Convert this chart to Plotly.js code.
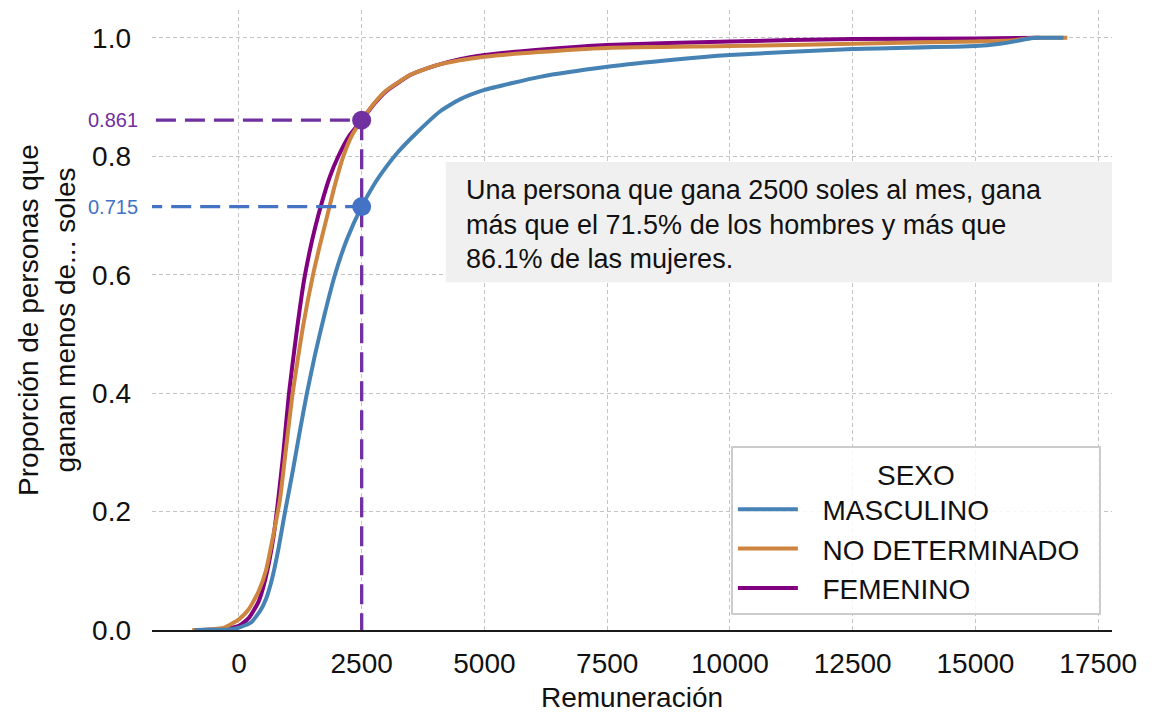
<!DOCTYPE html>
<html>
<head>
<meta charset="utf-8">
<script src="https://cdn.plot.ly/plotly-3.0.1.min.js"></script>
<style>
  html, body { margin: 0; padding: 0; background: #ffffff; }
  #chart { width: 1165px; height: 713px; }
</style>
</head>
<body>
<div id="chart"></div>
<script>
// ---- Data ----
const seriesNames = ['MASCULINO', 'NO DETERMINADO', 'FEMENINO'];

const xMasculino = [-900, -500, -200, 0, 250, 430, 550, 670, 800, 940, 1100, 1250, 1385, 1550, 1750, 1956, 2200, 2500, 2750, 3000, 3250, 3600, 4100, 4500, 5000, 6130, 7500, 8840, 10000, 12500, 15000, 15500, 15800, 16100, 16300, 16790];
const yMasculino = [0, 0.0005, 0.001, 0.004, 0.013, 0.032, 0.052, 0.085, 0.135, 0.2, 0.27, 0.34, 0.4, 0.465, 0.535, 0.6, 0.66, 0.715, 0.752, 0.782, 0.808, 0.838, 0.876, 0.896, 0.912, 0.934, 0.951, 0.963, 0.971, 0.981, 0.986, 0.99, 0.994, 0.999, 1.0, 1.0];

const xNoDeterminado = [-950, -600, -300, 0, 200, 400, 550, 700, 835, 950, 1094, 1300, 1510, 1650, 1800, 1950, 2126, 2300, 2500, 2750, 3000, 3500, 4000, 4500, 5000, 6100, 7500, 10000, 12500, 15000, 15800, 16200, 16870];
const yNoDeterminado = [0, 0.001, 0.004, 0.018, 0.035, 0.065, 0.1, 0.16, 0.22, 0.3, 0.4, 0.51, 0.6, 0.65, 0.7, 0.75, 0.8, 0.835, 0.861, 0.889, 0.911, 0.938, 0.953, 0.962, 0.968, 0.976, 0.983, 0.986, 0.99, 0.994, 0.996, 1.0, 1.0];

const xFemenino = [-900, -500, -200, 0, 200, 400, 550, 700, 800, 900, 1020, 1170, 1325, 1450, 1550, 1700, 1850, 2024, 2250, 2500, 2750, 3000, 3500, 4000, 4500, 5000, 6100, 7500, 10000, 12500, 15000, 16300];
const yFemenino = [0, 0.001, 0.003, 0.007, 0.02, 0.048, 0.09, 0.155, 0.22, 0.295, 0.4, 0.5, 0.59, 0.643, 0.679, 0.725, 0.765, 0.8, 0.835, 0.861, 0.888, 0.91, 0.9375, 0.953, 0.964, 0.971, 0.98, 0.988, 0.994, 0.998, 0.999, 1.0];

// Reference point
const refSalary = [2500];
const refFemenino = [0.861];
const refMasculino = [0.715];
const refLabels = ['0.861', '0.715'];

const xTickVals = [0, 2500, 5000, 7500, 10000, 12500, 15000, 17500];
const xTickText = ['0', '2500', '5000', '7500', '10000', '12500', '15000', '17500'];
const yTickVals = [0, 0.2, 0.4, 0.6, 0.8, 1.0];
const yTickText = ['0.0', '0.2', '0.4', '0.6', '0.8', '1.0'];

const xRange = [-1770, 17780];
const yRange = [0, 1.047];

const annotationLines = [
  'Una persona que gana 2500 soles al mes, gana',
  'más que el 71.5% de los hombres y más que',
  '86.1% de las mujeres.'
];

// ---- Styles ----
const FONT = '"Liberation Sans", Arial, sans-serif';
const cBlue = '#4682B4';
const cOrange = '#CD853F';
const cPurple = '#800080';
const cGuidePurple = '#7030A0';
const cGuideBlue = '#4472C4';
const LEG_PAD = '\u2002\u2009';
const LEG_TAIL = '\u2002';

const traces = [
  { x: xFemenino, y: yFemenino, name: LEG_PAD + seriesNames[2] + LEG_TAIL, legendrank: 3, mode: 'lines',
    line: { color: cPurple, width: 4, shape: 'spline', smoothing: 0.5 } },
  { x: xNoDeterminado, y: yNoDeterminado, name: LEG_PAD + seriesNames[1] + LEG_TAIL, legendrank: 2, mode: 'lines',
    line: { color: cOrange, width: 4, shape: 'spline', smoothing: 0.5 } },
  { x: xMasculino, y: yMasculino, name: LEG_PAD + seriesNames[0] + LEG_TAIL, legendrank: 1, mode: 'lines',
    line: { color: cBlue, width: 4, shape: 'spline', smoothing: 0.5 } },
  // guides
  { x: [xRange[0] - 200, refSalary[0]], y: [refMasculino[0], refMasculino[0]], mode: 'lines', showlegend: false,
    cliponaxis: false, hoverinfo: 'skip', line: { color: cGuideBlue, width: 3.3, dash: '20px,9px' } },
  { x: [xRange[0] + 80, refSalary[0]], y: [refFemenino[0], refFemenino[0]], mode: 'lines', showlegend: false,
    hoverinfo: 'skip', line: { color: cGuidePurple, width: 3.3, dash: '20px,9px' } },
  { x: [refSalary[0], refSalary[0]], y: [refFemenino[0], 0], mode: 'lines', showlegend: false,
    hoverinfo: 'skip', line: { color: cGuidePurple, width: 3.3, dash: '20px,9px' } },
  { x: [refSalary[0]], y: [refMasculino[0]], mode: 'markers', showlegend: false, cliponaxis: false,
    marker: { color: cGuideBlue, size: 19 } },
  { x: [refSalary[0]], y: [refFemenino[0]], mode: 'markers', showlegend: false, cliponaxis: false,
    marker: { color: cGuidePurple, size: 19 } }
];

const lineY = [0.7097, 0.6532, 0.5984];
const textAnnotations = annotationLines.map((t, i) => ({
  xref: 'paper', yref: 'paper', x: 0.3255, y: lineY[i], xanchor: 'left', yanchor: 'middle', align: 'left',
  showarrow: false, text: t,
  font: { family: FONT, size: 27, color: '#111111' }
}));

const layout = {
  width: 1165, height: 713,
  margin: { l: 152, r: 53, t: 10, b: 83 },
  paper_bgcolor: '#ffffff', plot_bgcolor: '#ffffff',
  font: { family: FONT, size: 28, color: '#111111' },
  showlegend: true,
  xaxis: {
    range: xRange, tickvals: xTickVals, ticktext: xTickText,
    showgrid: true, gridcolor: '#c4c4c4', gridwidth: 1, griddash: '4px,3px',
    zeroline: false, showline: true, linecolor: '#1a1a1a', linewidth: 2,
    ticks: '', ticklabelstandoff: 7,
    tickfont: { family: FONT, size: 28, color: '#111111' },
    title: { text: 'Remuneración', font: { family: FONT, size: 28, color: '#111111' }, standoff: 21 },
    automargin: false
  },
  yaxis: {
    range: yRange, tickvals: yTickVals, ticktext: yTickText,
    showgrid: true, gridcolor: '#c4c4c4', gridwidth: 1, griddash: '4px,3px',
    zeroline: false, showline: false,
    ticks: '', ticklabelstandoff: 20,
    tickfont: { family: FONT, size: 28, color: '#111111' },
    title: { text: 'Proporción de personas que<br>ganan menos de... soles', font: { family: FONT, size: 28, color: '#111111' }, standoff: 8 },
    automargin: false
  },
  legend: {
    x: 0.603, y: 0.024, xanchor: 'left', yanchor: 'bottom',
    bgcolor: 'rgba(255,255,255,0.85)', bordercolor: '#cccccc', borderwidth: 2,
    font: { family: FONT, size: 28, color: '#111111' },
    title: { text: 'SEXO', side: 'top center', font: { family: FONT, size: 28, color: '#111111' } },
    itemwidth: 60, tracegroupgap: 0
  },
  shapes: [
    { type: 'rect', xref: 'paper', yref: 'paper', x0: 0.306, x1: 1.0, y0: 0.561, y1: 0.755,
      fillcolor: '#f0f0f0', line: { width: 0 }, layer: 'above' }
  ],
  annotations: textAnnotations.concat([
    { xref: 'paper', yref: 'y', x: -0.012, y: refFemenino[0], xanchor: 'right', yanchor: 'middle',
      showarrow: false, text: refLabels[0], font: { family: FONT, size: 20, color: cGuidePurple } },
    { xref: 'paper', yref: 'y', x: -0.012, y: refMasculino[0], xanchor: 'right', yanchor: 'middle',
      showarrow: false, text: refLabels[1], font: { family: FONT, size: 20, color: cGuideBlue } }
  ])
};

Plotly.newPlot('chart', traces, layout, { displayModeBar: false, staticPlot: true });
</script>
</body>
</html>
